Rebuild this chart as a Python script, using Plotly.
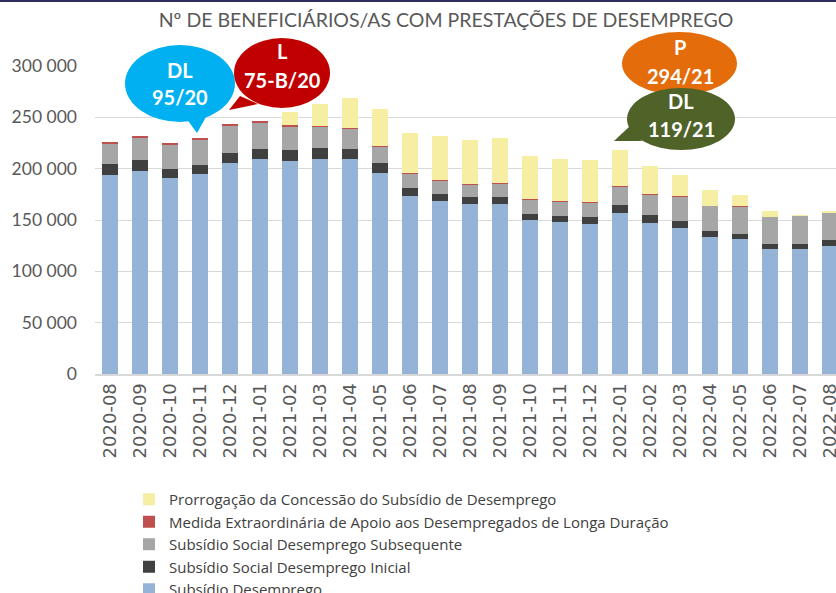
import plotly.graph_objects as go

months = ["2020-08", "2020-09", "2020-10", "2020-11", "2020-12",
          "2021-01", "2021-02", "2021-03", "2021-04", "2021-05", "2021-06",
          "2021-07", "2021-08", "2021-09", "2021-10", "2021-11", "2021-12",
          "2022-01", "2022-02", "2022-03", "2022-04", "2022-05", "2022-06",
          "2022-07", "2022-08"]

subsidio_desemprego = [193800, 198000, 190500, 194400, 205800, 209000, 207700,
                       209300, 209300, 196000, 173600, 168800, 165200, 165800,
                       150300, 147700, 146100, 157100, 146700, 142200, 133100,
                       131100, 121700, 121700, 124900]
ssd_inicial = [10400, 10400, 9100, 9100, 9700, 10000, 10400, 10500, 10100, 9400,
               7500, 6800, 6800, 6900, 5800, 5800, 6800, 7800, 8100, 7100, 6400,
               5500, 5200, 5200, 5600]
ssd_subsequente = [20400, 22100, 23700, 25000, 26600, 25700, 23400, 21000, 19800,
                   16600, 14300, 13300, 12400, 13300, 14300, 15000, 14600, 17800,
                   20500, 23400, 24400, 26700, 26300, 27200, 26900]
medida_extra = [1000, 900, 1000, 1000, 1000, 1000, 700, 600, 500, 400, 300, 300,
                200, 200, 200, 200, 200, 200, 200, 200, 200, 200, 200, 200, 200]
prorrogacao = [0, 0, 0, 0, 0, 0, 12900, 21400, 28700, 35300, 38900, 42700, 43700,
               43500, 41600, 41200, 41200, 34800, 27200, 21400, 15000, 10400, 4900,
               500, 800]

y_tickvals = [0, 50000, 100000, 150000, 200000, 250000, 300000]
y_ticktext = ["0", "50 000", "100 000", "150 000", "200 000", "250 000", "300 000"]

series = [
    ("Subsídio Desemprego", subsidio_desemprego, "#95B3D7"),
    ("Subsídio Social Desemprego Inicial", ssd_inicial, "#404040"),
    ("Subsídio Social Desemprego Subsequente", ssd_subsequente, "#A6A6A6"),
    ("Medida Extraordinária de Apoio aos Desempregados de Longa Duração", medida_extra, "#C0504D"),
    ("Prorrogação da Concessão do Subsídio de Desemprego", prorrogacao, "#F5EEA3"),
]

W, H = 836, 593
L, R, T, B = 95, 836, 66, 374


def px(x):
    return (x - L) / (R - L)


def py(y):
    return (B - y) / (B - T)


fig = go.Figure()
for name, vals, color in series:
    fig.add_trace(go.Bar(x=months, y=vals, name=name,
                         marker=dict(color=color, line=dict(width=0))))

shapes = []
annotations = []


def bubble(x0, y0, x1, y1, color, tail, lines):
    shapes.append(dict(type="circle", xref="paper", yref="paper",
                       x0=px(x0), x1=px(x1), y0=py(y1), y1=py(y0),
                       fillcolor=color, line=dict(width=0), layer="above"))
    if tail:
        path = "M " + " L ".join(f"{px(a):.5f},{py(b):.5f}" for a, b in tail) + " Z"
        shapes.append(dict(type="path", xref="paper", yref="paper", path=path,
                           fillcolor=color, line=dict(width=0), layer="above"))
    for (tx, ty, txt) in lines:
        annotations.append(dict(x=px(tx), y=py(ty), xref="paper", yref="paper",
                                text=f"<b>{txt}</b>", showarrow=False,
                                font=dict(family="Lato", size=20, color="white"),
                                xanchor="center", yanchor="middle"))


bubble(125, 45, 235, 122, "#00B0F0", [(186, 118), (206, 117), (197, 133)],
       [(180, 70, "DL"), (180, 97, "95/20")])
bubble(234, 38, 330, 108, "#C00000", [(240, 96), (258, 104), (229, 110)],
       [(282, 51, "L"), (282, 80, "75-B/20")])
bubble(622, 32, 737, 95, "#E46C0A", None,
       [(680, 47, "P"), (680, 76, "294/21")])
bubble(627, 88, 735, 150, "#4F6228", [(630, 126), (642, 141), (614, 141)],
       [(681, 101, "DL"), (681, 129, "119/21")])

shapes.append(dict(type="line", xref="paper", yref="paper",
                   x0=px(0), x1=px(836), y0=py(1), y1=py(1),
                   line=dict(color="#2B2D5C", width=2), layer="above"))

fig.update_layout(
    width=W, height=H,
    margin=dict(l=L, r=W - R, t=T, b=H - B, pad=0, autoexpand=False),
    barmode="stack", bargap=0.46,
    plot_bgcolor="white", paper_bgcolor="white",
    title=dict(text="Nº DE BENEFICIÁRIOS/AS COM PRESTAÇÕES DE DESEMPREGO",
               x=446 / W, xref="container", xanchor="center",
               y=1 - 20 / H, yref="container", yanchor="middle",
               font=dict(family="Lato", size=19.5, color="#595959")),
    legend=dict(x=px(129), y=py(483), xanchor="left", yanchor="top",
                traceorder="reversed", font=dict(family="Open Sans", size=15, color="#404040"),
                bgcolor="rgba(0,0,0,0)", itemclick=False),
    shapes=shapes, annotations=annotations,
    xaxis=dict(type="category", range=[-0.5, 24.2], tickangle=-90,
               tickfont=dict(family="DejaVu Sans", size=18, color="#595959"),
               showline=True, linecolor="#D9D9D9", linewidth=2, ticks="",
               showgrid=False, fixedrange=True),
    yaxis=dict(range=[0, 300000], tickvals=y_tickvals, ticktext=y_ticktext,
               tickfont=dict(family="Lato", size=17.5, color="#595959"),
               showgrid=True, gridcolor="#D9D9D9", gridwidth=1,
               zeroline=False, showline=False, ticks="", ticklabelstandoff=17,
               fixedrange=True),
)

fig.write_html("out.html", config={"displayModeBar": False},
               post_script="document.body.style.margin='0';document.body.style.overflow='hidden';")
